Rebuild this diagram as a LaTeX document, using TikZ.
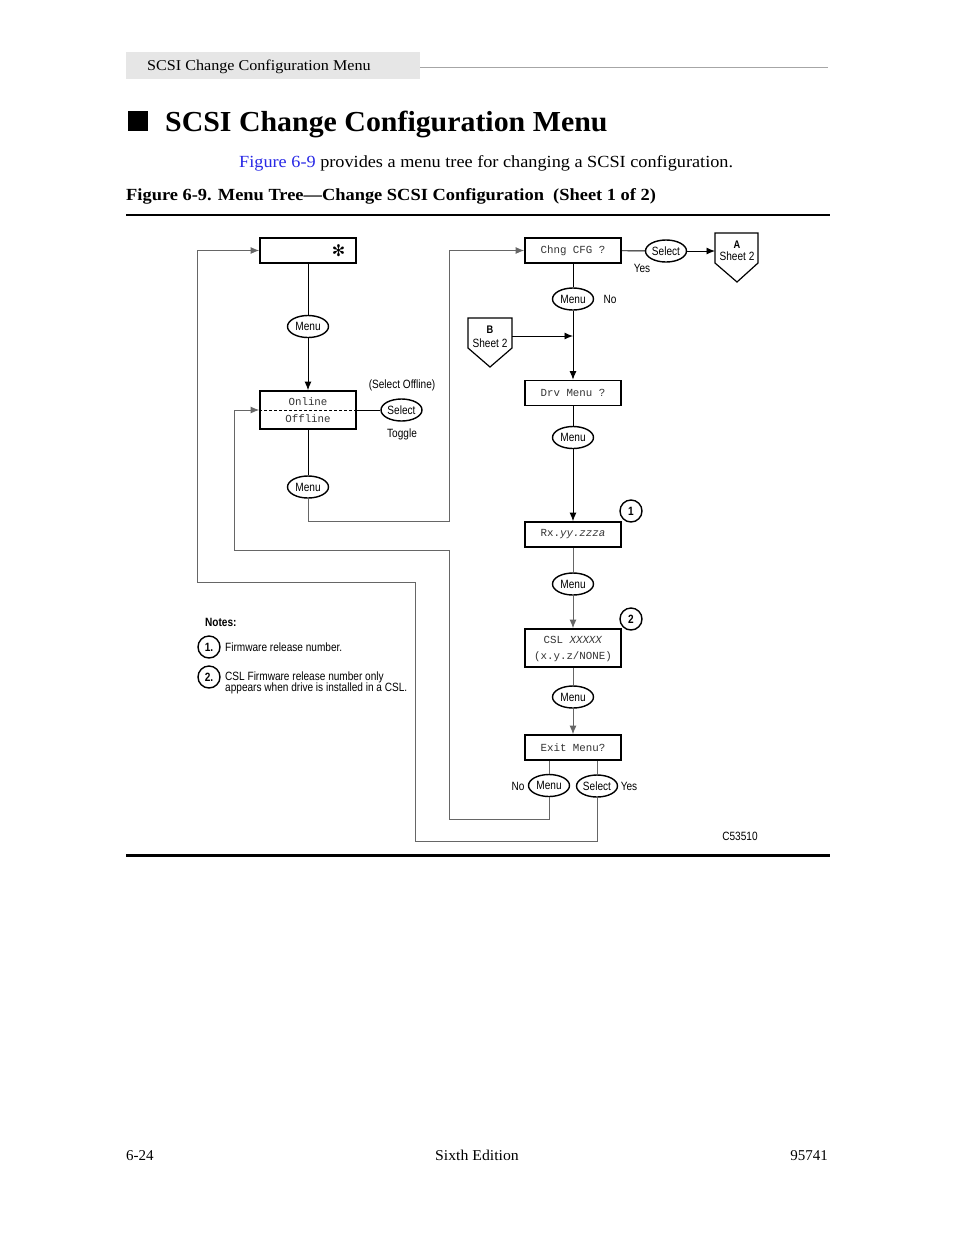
\documentclass[tikz,border=0pt]{standalone}
\usepackage{graphicx}
\usepackage{fontspec}
\setmainfont{Liberation Serif}
\setmonofont{Liberation Mono}
\newfontfamily\dsans[FakeStretch=0.84]{Liberation Sans}
\newfontfamily\dju{DejaVu Sans}
\usetikzlibrary{arrows.meta,shapes.geometric}
\definecolor{hdrgray}{RGB}{230,230,230}
\definecolor{linkblue}{RGB}{40,40,230}
\begin{document}
\begin{tikzpicture}[x=1pt,y=-1pt,
  tip/.style={-{Latex[length=8.5,width=7]}},
  ln/.style={line width=0.9,draw=black},
  lp/.style={line width=0.9,draw=black!60},
  mbox/.style={draw,line width=1.8,minimum width=96,minimum height=25,inner sep=0,
    font=\ttfamily\fontsize{10.8}{17}\selectfont,text=black!80},
  mtxt/.style={inner sep=0,font=\ttfamily\fontsize{10.8}{12}\selectfont,text=black!80},
  oval/.style={ellipse,draw,line width=1.4,minimum width=41,minimum height=22,inner sep=0,
    font=\dsans\fontsize{12}{13}\selectfont,fill=white},
  lbl/.style={font=\dsans\fontsize{12}{13}\selectfont,inner sep=0},
  circ/.style={circle,draw,line width=1.4,minimum size=22,inner sep=0,
    font=\dsans\bfseries\fontsize{12}{13}\selectfont},
  note/.style={font=\dsans\fontsize{12}{13}\selectfont,inner sep=0,anchor=west,align=left}
]
\useasboundingbox[fill=white] (0,0) rectangle (954,1235);

% ---- page header ----
\fill[hdrgray] (126,52) rectangle (420,79);
\draw[black!35,line width=0.8] (420,67.5) -- (828,67.5);
\node[anchor=base west,inner sep=0,font=\fontsize{15}{16}\selectfont] (hdr) at (147,70) {\scalebox{1.075}[1]{SCSI Change Configuration Menu}};
\fill (128,111) rectangle (148,131);
\node[anchor=base west,inner sep=0,font=\bfseries\fontsize{29}{30}\selectfont] (ttl) at (165,131) {\scalebox{1.03}[1]{SCSI Change Configuration Menu}};
\node[anchor=base west,inner sep=0,font=\fontsize{17}{18}\selectfont] (body) at (239,167) {\scalebox{1.073}[1]{\textcolor{linkblue}{Figure 6-9} provides a menu tree for changing a SCSI configuration.}};
\node[anchor=base west,inner sep=0,font=\bfseries\fontsize{17}{18}\selectfont] (cap) at (126,200) {\scalebox{1.083}[1]{Figure 6-9. Menu Tree---Change SCSI Configuration\ \ (Sheet 1 of 2)}};
\draw[line width=2] (126,214.5) -- (830,214.5);
\draw[line width=3] (126,855) -- (830,855);

% ---- footer ----
\node[anchor=base west,inner sep=0,font=\fontsize{15}{16}\selectfont] (f1) at (126,1160) {6-24};
\node[anchor=base,inner sep=0,font=\fontsize{15}{16}\selectfont] (f2) at (477,1160) {\scalebox{1.05}[1]{Sixth Edition}};
\node[anchor=base east,inner sep=0,font=\fontsize{15}{16}\selectfont] (f3) at (828,1160) {95741};

% ---- left column ----
\node[mbox] (star) at (308,250.5) {};
\node[inner sep=0,font=\dju\fontsize{16}{16}\selectfont] (asterisk) at (338.5,250.5) {✻};
\node[oval] (m1) at (308,326.5) {Menu};
\node[mbox,minimum height=38] (onoff) at (308,410) {};
\node[mtxt] (online) at (308,401.5) {Online};
\node[mtxt] (offline) at (308,419) {Offline};
\node[oval] (sel1) at (401.5,410) {Select};
\node[lbl] (selofl) at (402,385) {(Select Offline)};
\node[lbl] (toggle) at (402,434) {Toggle};
\node[oval] (m2) at (308,487) {Menu};

% ---- right column ----
\node[mbox] (chng) at (573,250.5) {Chng CFG ?};
\node[oval] (selA) at (666,251) {Select};
\node[lbl] (yes1) at (642,268) {Yes};
\node[oval] (m3) at (573,299) {Menu};
\node[lbl] (no1) at (610,299) {No};
\node[mbox] (drv) at (573,393) {Drv Menu ?};
\node[oval] (m4) at (573,437.5) {Menu};
\node[mbox] (rx) at (573,534.5) {Rx.\textit{yy.zzza}};
\node[circ] (c1) at (631,511) {1};
\node[oval] (m5) at (573,584) {Menu};
\node[mbox,minimum height=38] (csl) at (573,648) {};
\node[mtxt] (csl1) at (573,639.5) {CSL \textit{XXXXX}};
\node[mtxt] (csl2) at (573,657) {(x.y.z/NONE)};
\node[circ] (c2) at (631,619) {2};
\node[oval] (m6) at (573,697) {Menu};
\node[mbox] (exit) at (573,747.5) {Exit Menu?};
\node[oval] (mno) at (549,785.5) {Menu};
\node[oval] (selyes) at (597,786) {Select};
\node[lbl] (no2) at (518,786) {No};
\node[lbl] (yes2) at (629,786) {Yes};
\node[lbl,font=\dsans\fontsize{12}{12}\selectfont] (code) at (740,836) {C53510};

% off-sheet connectors
\draw[line width=1.2] (715,233) -- (758,233) -- (758,263) -- (737,282) -- (715,263) -- cycle;
\node[lbl,font=\dsans\bfseries\fontsize{11}{12}\selectfont] (Alab) at (737,244.5) {A};
\node[lbl] (Ash) at (737,256) {Sheet 2};
\coordinate (Aw) at (715,251);
\draw[line width=1.2] (468,318) -- (512,318) -- (512,348) -- (490,367) -- (468,348) -- cycle;
\node[lbl,font=\dsans\bfseries\fontsize{11}{12}\selectfont] (Blab) at (490,329.5) {B};
\node[lbl] (Bsh) at (490,343) {Sheet 2};
\coordinate (Be) at (512,336);
\coordinate (Bj) at (573,336);

% ---- notes ----
\node[note,font=\dsans\bfseries\fontsize{12}{12}\selectfont] (notes) at (205,622) {Notes:};
\node[circ] (n1) at (209,647) {1.};
\node[note] (n1t) at (225,647) {Firmware release number.};
\node[circ] (n2) at (209,677) {2.};
\node[note,align=left] (n2t) at (225,683) {CSL Firmware release number only\\[-2.5pt]appears when drive is installed in a CSL.};

% ---- connectors ----
\draw[ln] (star) -- (m1);
\draw[ln,tip] (m1) -- (onoff);
\draw[ln,dash pattern=on 3pt off 2pt] (onoff.west) -- (onoff.east);
\draw[ln] (onoff.east) -- (sel1);
\draw[ln] (onoff) -- (m2);
\coordinate (l1) at (449,521);
\draw[lp,tip] (m2.south) |- (l1) |- (chng.west);
\draw[ln] (chng) -- (selA);
\draw[ln,tip] (selA) -- (Aw);
\draw[ln] (chng) -- (m3);
\draw[ln,tip] (m3) -- (drv);
\draw[ln,tip] (Be) -- (Bj);
\draw[ln] (drv) -- (m4);
\draw[ln,tip] (m4) -- (rx);
\draw[lp] (rx) -- (m5);
\draw[lp,tip] (m5) -- (csl);
\draw[lp] (csl) -- (m6);
\draw[lp,tip] (m6) -- (exit);
\draw[lp] (exit.south -| mno) -- (mno);
\draw[lp] (exit.south -| selyes) -- (selyes);
\coordinate (l2) at (449,819);
\coordinate (l3) at (234,550);
\draw[lp,tip] (mno.south) |- (l2) |- (l3) |- (onoff.west);
\coordinate (l4) at (415,841);
\coordinate (l5) at (197,582);
\draw[lp,tip] (selyes.south) |- (l4) |- (l5) |- (star.west);
\end{tikzpicture}
\end{document}
